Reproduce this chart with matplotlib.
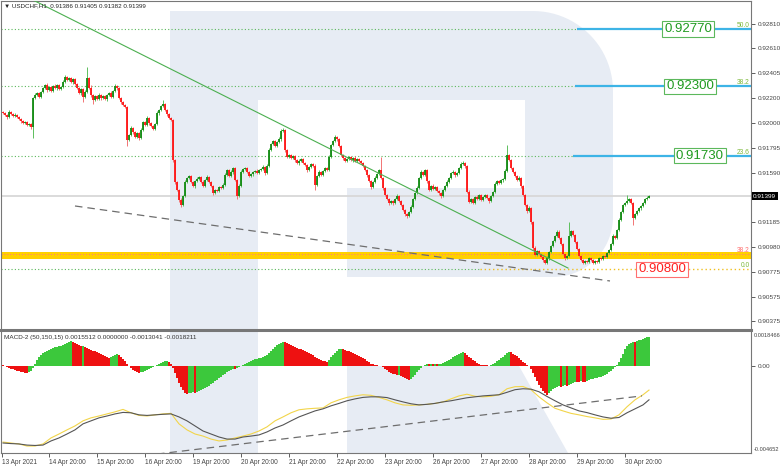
import numpy as np
import matplotlib
matplotlib.use("Agg")
import matplotlib.pyplot as plt
from matplotlib.patches import Polygon, Rectangle

plt.rcParams["font.family"] = ["Liberation Sans", "DejaVu Sans"]

W, H = 782, 466

# ---- USDCHF H1 candles: closes in points above 0.90000 (open = previous close)
first_open_pts = 2090
close_pts = [
    2080, 2064, 2048, 2089, 2072, 2056, 2064, 2048, 2031, 2015,
    1998, 2007, 1982, 1990, 1966, 2203, 2228, 2244, 2212, 2253,
    2285, 2310, 2269, 2294, 2261, 2302, 2285, 2310, 2277, 2294,
    2335, 2376, 2351, 2367, 2335, 2359, 2318, 2285, 2244, 2277,
    2212, 2253, 2367, 2285, 2228, 2187, 2220, 2195, 2228, 2203,
    2220, 2195, 2228, 2244, 2212, 2261, 2302, 2285, 2203, 2171,
    2146, 2130, 1859, 1900, 1957, 1925, 1884, 1916, 1875, 1941,
    2007, 1982, 2039, 1998, 1974, 1949, 1990, 2080, 2105, 2138,
    2154, 2105, 2072, 2039, 2023, 1695, 1515, 1449, 1367, 1326,
    1400, 1515, 1547, 1564, 1515, 1482, 1523, 1539, 1556, 1515,
    1482, 1531, 1556, 1515, 1482, 1425, 1449, 1441, 1474, 1466,
    1490, 1572, 1613, 1564, 1597, 1629, 1531, 1400, 1482, 1597,
    1621, 1629, 1597, 1564, 1580, 1597, 1605, 1588, 1613, 1621,
    1638, 1588, 1646, 1777, 1826, 1851, 1810, 1843, 1867, 1933,
    1941, 1777, 1720, 1736, 1711, 1728, 1695, 1670, 1687, 1703,
    1670, 1654, 1613, 1638, 1662, 1646, 1490, 1564, 1597, 1572,
    1605, 1629, 1613, 1720, 1818, 1851, 1884, 1867, 1810, 1736,
    1711, 1687, 1703, 1720, 1695, 1711, 1687, 1703, 1687, 1670,
    1646, 1613, 1572, 1523, 1474, 1515, 1547, 1580, 1613, 1547,
    1466, 1408, 1375, 1342, 1359, 1342, 1375, 1400, 1359, 1326,
    1285, 1252, 1236, 1269, 1310, 1375, 1425, 1466, 1547, 1597,
    1572, 1613, 1523, 1449, 1482, 1457, 1474, 1441, 1425, 1400,
    1449, 1482, 1515, 1547, 1588, 1597, 1572, 1588, 1629, 1662,
    1670, 1646, 1433, 1351, 1375, 1342, 1392, 1375, 1408, 1367,
    1392, 1408, 1383, 1359, 1400, 1433, 1498, 1523, 1506, 1531,
    1539, 1605, 1736, 1695, 1629, 1597, 1564, 1531, 1547, 1482,
    1408, 1326, 1277, 1301, 1187, 973, 916, 949, 924, 900,
    875, 850, 891, 941, 990, 1031, 1072, 1105, 1055, 1006,
    924, 891, 908, 1072, 1113, 1080, 1023, 965, 908, 875,
    850, 867, 859, 891, 875, 850, 867, 859, 891, 883,
    908, 900, 932, 957, 1006, 1072, 1055, 1121, 1203, 1269,
    1326, 1342, 1359, 1375, 1342, 1219, 1252, 1277, 1301, 1318,
    1342, 1375, 1386, 1399,
]
upper_wick = [
    8, 12, 6, 15, 9, 5, 14, 7, 10, 6, 12, 8, 5, 9, 7, 10, 14, 6, 11, 8,
    12, 9, 15, 6, 10, 8, 13, 7, 9, 11, 14, 20, 8, 12, 6, 10, 9, 7, 12, 8,
    10, 14, 90, 12, 25, 8, 11, 6, 13, 9, 7, 12, 10, 8, 14, 9, 15, 11, 6, 8,
    10, 5, 12, 9, 14, 7, 11, 8, 10, 13, 9, 12, 15, 7, 10, 8, 12, 14, 9, 11,
    30, 8, 10, 6, 9, 12, 7, 10, 8, 14, 9, 18, 12, 10, 7, 11, 9, 13, 8, 10,
    12, 9, 14, 7, 10, 8, 12, 9, 11, 6, 13, 15, 10, 8, 12, 9, 7, 11, 14, 20,
    9, 12, 8, 10, 6, 11, 9, 13, 8, 10, 12, 7, 14, 18, 10, 12, 9, 11, 15, 13,
    16, 10, 8, 12, 9, 11, 7, 10, 13, 8, 9, 12, 10, 8, 11, 9, 14, 10, 12, 8,
    9, 11, 7, 13, 10, 12, 20, 9, 8, 11, 10, 7, 12, 9, 8, 10, 13, 9, 11, 7,
    10, 8, 12, 9, 11, 10, 13, 8, 9, 107, 10, 8, 12, 9, 7, 11, 10, 13, 8, 9,
    12, 8, 10, 9, 14, 11, 8, 12, 10, 15, 9, 12, 11, 8, 10, 13, 9, 7, 11, 10,
    12, 9, 14, 10, 8, 13, 11, 9, 12, 16, 14, 10, 8, 12, 9, 11, 10, 13, 8, 12,
    9, 11, 10, 8, 12, 10, 14, 9, 11, 12, 10, 15, 82, 12, 9, 11, 8, 10, 13, 9,
    11, 8, 12, 14, 10, 9, 13, 8, 11, 10, 12, 9, 14, 11, 10, 12, 9, 13, 20, 10,
    9, 12, 8, 115, 12, 10, 9, 11, 8, 10, 12, 9, 11, 8, 10, 12, 9, 10, 11, 8,
    10, 12, 9, 11, 10, 13, 12, 9, 14, 11, 10, 12, 49, 10, 9, 12, 10, 8, 11, 9,
    10, 8, 12, 6,
]
lower_wick = [
    10, 7, 13, 9, 6, 12, 8, 11, 9, 14, 7, 10, 12, 8, 15, 91, 9, 12, 7, 10,
    8, 11, 13, 9, 12, 7, 10, 14, 8, 9, 11, 7, 12, 10, 9, 13, 8, 11, 10, 12,
    41, 9, 12, 10, 14, 33, 8, 11, 9, 12, 10, 8, 13, 9, 11, 7, 10, 12, 9, 14,
    11, 10, 49, 12, 9, 14, 10, 8, 13, 11, 9, 12, 10, 14, 8, 11, 9, 10, 12, 8,
    10, 9, 12, 8, 11, 14, 16, 12, 15, 16, 10, 9, 12, 8, 11, 10, 13, 9, 12, 10,
    9, 12, 8, 11, 10, 14, 9, 12, 10, 8, 11, 9, 12, 10, 8, 13, 9, 25, 11, 10,
    12, 9, 11, 8, 10, 13, 9, 11, 10, 12, 8, 14, 10, 9, 12, 11, 8, 10, 9, 12,
    10, 14, 12, 9, 11, 10, 13, 8, 12, 10, 9, 11, 14, 10, 12, 9, 41, 11, 10, 12,
    9, 11, 10, 8, 12, 10, 9, 13, 11, 10, 12, 9, 8, 11, 10, 13, 9, 12, 10, 8,
    11, 10, 13, 12, 15, 9, 11, 10, 12, 9, 14, 11, 10, 13, 9, 12, 10, 8, 11, 12,
    10, 13, 15, 11, 9, 12, 10, 8, 11, 9, 12, 10, 14, 9, 11, 10, 12, 9, 13, 14,
    10, 9, 12, 11, 8, 10, 13, 9, 11, 10, 12, 14, 10, 12, 9, 11, 10, 12, 9, 11,
    10, 12, 9, 13, 11, 10, 12, 9, 11, 10, 13, 9, 12, 11, 10, 9, 12, 10, 11, 13,
    12, 10, 14, 11, 13, 20, 12, 10, 11, 9, 13, 8, 10, 12, 9, 11, 10, 12, 9, 11,
    10, 12, 9, 11, 10, 12, 9, 11, 10, 10, 10, 10, 11, 9, 10, 9, 9, 11, 10, 9,
    10, 9, 11, 10, 12, 9, 11, 10, 12, 9, 10, 11, 9, 12, 10, 57, 11, 9, 10, 12,
    9, 10, 8, 4,
]

# ---- MACD-2 (50,150,15): histogram per bar, in units of 1e-4
macd_hist = [
    0.54, 0.0, -0.54, -1.07, -1.61, -2.03, -2.41, -2.68, -2.94, -3.21,
    -3.42, -3.64, -3.85, -3.48, -2.68, -1.07, 1.07, 3.21, 4.82, 5.89,
    6.96, 7.49, 8.03, 8.56, 9.10, 9.63, 9.90, 10.17, 10.43, 10.70,
    11.24, 11.77, 12.31, 12.84, 13.11, 12.57, 12.04, 11.50, 10.97, 10.43,
    10.70, 9.90, 9.36, 9.10, 8.56, 8.03, 7.76, 7.49, 6.96, 6.42,
    5.89, 5.35, 4.82, 4.28, 4.82, 5.35, 5.89, 6.42, 5.89, 4.82,
    3.75, 2.68, 1.07, 0.0, -1.07, -2.14, -2.68, -3.21, -3.75, -3.48,
    -3.21, -2.68, -2.14, -1.61, -1.07, -0.54, 0.0, 0.54, 1.07, 1.61,
    2.14, 2.41, 2.68, 2.14, 1.07, -1.07, -3.75, -6.42, -9.10, -11.24,
    -12.84, -14.45, -14.98, -14.71, -14.45, -14.18, -14.34, -13.91, -13.38, -12.84,
    -12.31, -11.77, -11.24, -10.70, -9.90, -9.10, -8.29, -7.49, -6.69, -5.89,
    -5.08, -4.28, -3.48, -2.68, -2.14, -1.61, -1.77, -1.07, -0.54, 0.0,
    0.54, 1.07, 1.61, 2.14, 2.68, 3.21, 3.48, 3.75, 4.01, 4.28,
    4.82, 5.35, 5.89, 6.96, 8.03, 9.10, 10.17, 11.24, 11.77, 12.31,
    12.84, 12.57, 12.31, 11.77, 11.24, 10.70, 10.17, 9.63, 9.10, 8.83,
    8.56, 8.03, 7.49, 6.96, 6.42, 5.89, 4.82, 4.01, 3.48, 3.21,
    2.68, 2.41, 2.14, 3.21, 4.82, 5.89, 6.96, 8.03, 8.83, 9.10,
    8.83, 8.56, 8.03, 7.76, 7.49, 6.96, 6.42, 5.89, 5.35, 4.82,
    4.28, 3.48, 2.68, 1.87, 1.07, 0.80, 0.54, 0.27, 0.0, -0.27,
    -0.80, -1.61, -2.41, -3.21, -3.75, -4.28, -4.55, -5.08, -4.82, -5.35,
    -5.89, -6.42, -6.96, -7.49, -6.96, -5.89, -4.82, -3.48, -2.14, -1.07,
    0.0, 0.54, 0.80, 0.70, 0.86, 0.80, 0.91, 0.86, 0.96, 1.07,
    1.34, 1.87, 2.41, 3.21, 3.75, 4.55, 5.35, 5.89, 6.42, 6.96,
    7.49, 6.96, 5.89, 4.82, 4.01, 3.21, 2.41, 1.61, 1.07, 0.54,
    0.27, 0.16, 0.11, 0.05, 0.27, 0.80, 1.61, 2.41, 3.21, 4.01,
    4.82, 5.89, 6.96, 7.49, 7.22, 6.42, 5.89, 5.35, 4.28, 3.21,
    2.14, 1.34, 0.54, 0.0, -1.61, -3.75, -5.89, -8.03, -10.17, -11.77,
    -13.38, -14.45, -15.52, -14.45, -13.38, -12.31, -11.77, -11.24, -10.97, -11.13,
    -10.70, -10.43, -10.59, -10.17, -9.63, -9.10, -8.56, -8.72, -8.83, -8.29,
    -8.45, -8.56, -8.03, -7.49, -7.22, -6.96, -6.69, -6.42, -6.15, -5.89,
    -5.35, -4.82, -4.28, -3.48, -2.68, -1.61, -0.54, 0.54, 2.14, 4.28,
    6.42, 9.10, 10.70, 11.77, 12.31, 12.84, 12.68, 13.11, 13.64, 13.91,
    14.45, 14.71, 15.14, 15.51,
]
# the two MACD lines, read every 4th bar (units of 1e-4)
line_idx = list(range(0, 321, 4)) + [323]
macd_black = [
    -41.2, -41.5, -41.7, -42.3, -42.5, -42.3, -40.1, -38.5, -36.4, -34.2,
    -31.0, -29.4, -27.8, -26.8, -25.7, -24.9, -25.1, -26.2, -26.5, -26.2,
    -25.9, -25.7, -27.3, -29.4, -32.1, -34.8, -36.4, -38.0, -39.1, -39.1,
    -38.0, -37.5, -36.9, -35.3, -33.2, -31.6, -29.4, -27.3, -25.7, -24.1,
    -23.0, -21.4, -20.1, -18.7, -17.7, -16.9, -16.6, -16.6, -17.0, -18.2,
    -19.3, -20.3, -20.9, -20.6, -20.1, -19.3, -18.7, -17.9, -17.1, -16.6,
    -16.1, -15.8, -15.5, -14.2, -12.8, -12.3, -12.5, -13.9, -16.4, -18.7,
    -20.9, -22.5, -24.1, -25.0, -26.2, -27.3, -28.0, -27.6, -25.1, -23.0,
    -20.9, -18.2,
]
macd_yellow = [
    -40.7, -41.2, -41.7, -42.8, -42.8, -41.7, -38.5, -36.4, -34.2, -32.1,
    -29.4, -27.8, -26.8, -25.7, -24.6, -23.3, -25.1, -26.5, -26.8, -26.2,
    -25.7, -25.4, -31.0, -34.2, -36.4, -37.5, -39.1, -40.1, -39.6, -38.5,
    -37.5, -36.4, -34.8, -32.6, -29.4, -27.3, -25.1, -23.5, -23.0, -22.7,
    -22.5, -19.8, -18.2, -16.9, -16.1, -15.5, -15.8, -16.9, -18.2, -19.8,
    -20.9, -21.1, -20.9, -20.6, -20.1, -19.3, -17.7, -16.1, -15.2, -16.3,
    -16.6, -16.3, -15.5, -12.3, -11.2, -11.1, -12.8, -16.6, -19.8, -22.7,
    -24.1, -25.4, -26.2, -27.1, -27.8, -28.6, -28.4, -26.2, -21.9, -18.2,
    -15.5, -13.0,
]

# ---- drawn objects
fib_levels = [0.92770, 0.92300, 0.91730]
fib_names = ["50.0", "38.2", "23.6"]
fib_ray_start = [287, 286, 285]
fib_zero = 0.90800
band_lo, band_hi, band_mid = 0.90881, 0.90943, 0.90925
last_price = 0.91399
trend_green = ([15, 282.5], [0.93007, 0.90809])
trend_dash_main = ([36, 303.5], [0.91318, 0.90703])
trend_dash_macd = ([77, 319.5], [-0.00471, -0.00161])

price_ticks = [0.92810, 0.92610, 0.92405, 0.92200, 0.92000, 0.91795,
               0.91590, 0.91185, 0.90980, 0.90775, 0.90575, 0.90375]
date_idx = [-0.5, 23, 47, 71, 95, 119, 143, 167, 191, 215, 239, 263, 287, 311]
date_labels = ["13 Apr 2021", "14 Apr 20:00", "15 Apr 20:00", "16 Apr 20:00",
               "19 Apr 20:00", "20 Apr 20:00", "21 Apr 20:00", "22 Apr 20:00",
               "23 Apr 20:00", "26 Apr 20:00", "27 Apr 20:00", "28 Apr 20:00",
               "29 Apr 20:00", "30 Apr 20:00"]

closes = 0.9 + np.array(close_pts) * 1e-5
opens = np.r_[0.9 + first_open_pts * 1e-5, closes[:-1]]
highs = np.maximum(opens, closes) + np.array(upper_wick) * 1e-5
lows = np.minimum(opens, closes) - np.array(lower_wick) * 1e-5
idx = np.arange(len(closes))
up = closes >= opens

hist = np.array(macd_hist) * 1e-4
rising = np.r_[False, hist[1:] > hist[:-1]]

fig = plt.figure(figsize=(W / 100, H / 100), dpi=100)
fig.patch.set_facecolor("white")

# watermark logo behind both panels (pixel coordinates)
bg = fig.add_axes([0, 0, 1, 1], zorder=-1)
bg.set_xlim(0, W); bg.set_ylim(H, 0); bg.axis("off")
wm = "#e7ecf4"
bg.add_patch(Rectangle((170, 11), 88, 442, color=wm, lw=0))
t = np.linspace(0, np.pi / 2, 25)
arc1 = list(zip(533 + 80 * np.sin(t), 91 - 80 * np.cos(t)))
arc2 = list(zip(553 + 60 * np.cos(t), 217 + 60 * np.sin(t)))
bowl = [(258, 11)] + arc1 + arc2 + [(347, 277), (347, 188), (525, 188), (525, 100), (258, 100)]
bg.add_patch(Polygon(bowl, closed=True, color=wm, lw=0))
bg.add_patch(Polygon([(347, 366), (519, 366), (568, 453), (347, 453)], closed=True, color=wm, lw=0))

ax = fig.add_axes([1 / W, 1 - 330 / H, 750 / W, 329 / H])
ax.set_facecolor("none")
ax.set_xlim(-1, 374)
ax.set_ylim(0.90301, 0.92999)

# fibonacci levels
for lvl, name, xs in zip(fib_levels, fib_names, fib_ray_start):
    ax.hlines(lvl, -1, xs, colors="#5cb85c", linestyles=(0, (1, 2)), lw=0.8, zorder=2)
    ax.hlines(lvl, xs, 374, colors="#3db4e6", lw=1.6, zorder=2)
    ax.text(373.3, lvl + 0.00002, name, ha="right", va="bottom", fontsize=4.8, color="#7cb83a", zorder=5)
ax.axhspan(band_lo, band_hi, color="#ffd000", lw=0, zorder=1)
ax.axhline(band_mid, color="#ff6f91", ls=(0, (1, 2)), lw=0.7, zorder=2)
ax.text(373.3, band_mid, "38.2", ha="right", va="bottom", fontsize=4.8, color="#ff6f6f", zorder=5)
ax.hlines(fib_zero, -1, 238.5, colors="#5cb85c", linestyles=(0, (1, 2)), lw=0.8, zorder=2)
ax.hlines(fib_zero, 238.5, 374, colors="#f0c020", linestyles=(0, (1, 2)), lw=1.0, zorder=2)
ax.text(373.3, fib_zero + 0.00003, "0.0", ha="right", va="bottom", fontsize=4.8, color="#7cb83a", zorder=5)
ax.axhline(last_price, color="#d8d8d8", lw=1.3, zorder=1.5)

# candles
for mask, body, wick in [(up, "#128a12", "#5cbf5c"), (~up, "#ff1414", "#f27474")]:
    ax.vlines(idx[mask], lows[mask], highs[mask], colors=wick, lw=0.7, zorder=3)
    ax.vlines(idx[mask], opens[mask], closes[mask], colors=body, lw=1.3, zorder=3.1)

ax.plot(*trend_green, color="#4caf50", lw=0.8, zorder=4)
ax.plot(*trend_dash_main, color="#6e6e6e", lw=0.9, ls=(0, (6, 4)), zorder=4)

# price boxes
box_specs = [(342.5, 0.92770, "0.92770", "#1f9a1f", "#5cb85c"),
             (343.5, 0.92300, "0.92300", "#1f9a1f", "#5cb85c"),
             (348.5, 0.91730, "0.91730", "#1f9a1f", "#5cb85c"),
             (329.5, 0.90800, "0.90800", "#ff2020", "#ff7070")]
for bx, by, txt, tc, ec in box_specs:
    ax.text(bx, by, txt, ha="center", va="center", fontsize=9.5, color=tc, zorder=6,
            bbox=dict(boxstyle="square,pad=0.12", fc="white", ec=ec, lw=0.8))

ax.yaxis.tick_right()
ax.set_yticks(price_ticks)
ax.set_yticklabels([f"{v:.5f}" for v in price_ticks])
ax.tick_params(axis="y", length=3, width=0.6, colors="#444444", labelsize=4.6, pad=1.5)
ax.set_xticks([])
for s in ax.spines.values():
    s.set_color("#777777"); s.set_linewidth(0.8)
ax.spines["bottom"].set_linewidth(2.2)
ax.text(1.003, last_price, "0.91399", transform=ax.get_yaxis_transform(), ha="left", va="center",
        fontsize=4.6, color="white", zorder=7,
        bbox=dict(boxstyle="square,pad=0.25", fc="black", ec="black", lw=0))
fig.text(4 / W, 1 - 6 / H, "\u25bc USDCHF,H1  0.91386 0.91405 0.91382 0.91399",
         fontsize=4.5, va="center", ha="left", color="#222222")

# MACD panel
am = fig.add_axes([1 / W, 1 - 453 / H, 750 / W, 122 / H])
am.set_facecolor("none")
am.set_xlim(-1, 374)
am.set_ylim(-0.004652, 0.0018466)
am.bar(idx, hist, width=0.6, color=np.where(rising, "#3cc83c", "#ee1111"), lw=0, zorder=2)
am.plot(line_idx, np.array(macd_yellow) * 1e-4, color="#f2d54a", lw=0.8, zorder=3)
am.plot(line_idx, np.array(macd_black) * 1e-4, color="#555555", lw=0.8, zorder=3)
am.plot(*trend_dash_macd, color="#6e6e6e", lw=0.9, ls=(0, (6, 4)), zorder=3)
am.text(3 / 750, 0.97, "MACD-2 (50,150,15) 0.0015512 0.0000000 -0.0013041 -0.0018211",
        transform=am.transAxes, fontsize=4.6, va="top", ha="left", color="#333333")

am.yaxis.tick_right()
am.set_yticks([0])
am.set_yticklabels(["0.00"])
am.tick_params(axis="y", length=3, width=0.6, colors="#444444", labelsize=4.6, pad=1.5)
am.text(1.004, 0.985, "0.0018466", transform=am.transAxes, ha="left", va="top", fontsize=4.1, color="#444444")
am.text(1.004, 0.01, "-0.004652", transform=am.transAxes, ha="left", va="bottom", fontsize=4.1, color="#444444")
am.set_xticks(date_idx)
am.set_xticklabels(date_labels)
for lab in am.get_xticklabels():
    lab.set_horizontalalignment("left")
am.tick_params(axis="x", length=3, width=0.6, colors="#444444", labelsize=4.7, pad=1)
for s in am.spines.values():
    s.set_color("#777777"); s.set_linewidth(0.8)
am.spines["top"].set_visible(False)

fig.savefig("out.png", dpi=100)
